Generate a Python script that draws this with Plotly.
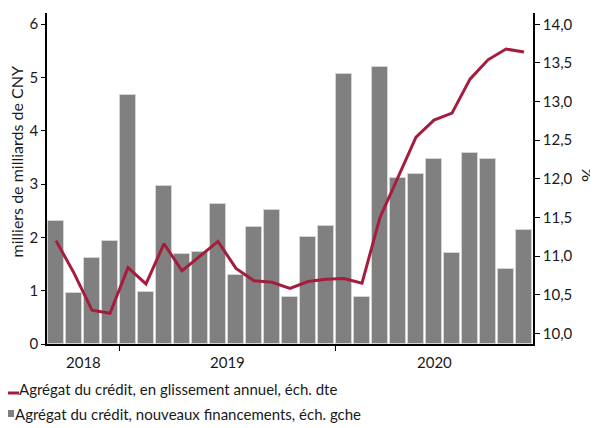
import plotly.graph_objects as go

months = ["2018-09", "2018-10", "2018-11", "2018-12",
          "2019-01", "2019-02", "2019-03", "2019-04", "2019-05", "2019-06",
          "2019-07", "2019-08", "2019-09", "2019-10", "2019-11", "2019-12",
          "2020-01", "2020-02", "2020-03", "2020-04", "2020-05", "2020-06",
          "2020-07", "2020-08", "2020-09", "2020-10", "2020-11"]

new_financing = [2.31, 0.96, 1.61, 1.93, 4.68, 0.97, 2.96, 1.68, 1.72, 2.63,
                 1.29, 2.20, 2.51, 0.88, 2.00, 2.21, 5.06, 0.88, 5.19, 3.11,
                 3.19, 3.47, 1.70, 3.59, 3.47, 1.40, 2.14]

yoy_growth = [11.20, 10.78, 10.30, 10.26, 10.85, 10.64, 11.16, 10.81, 11.00, 11.19,
              10.84, 10.68, 10.66, 10.58, 10.67, 10.70, 10.71, 10.65, 11.50, 12.03,
              12.54, 12.76, 12.85, 13.29, 13.54, 13.68, 13.64]

years = ["2018", "2019", "2020"]

x = list(range(len(months)))
year_centers = []
year_bounds = []
for yr in years:
    idx = [i for i, m in enumerate(months) if m.startswith(yr)]
    year_centers.append((idx[0] + idx[-1]) / 2)
    if idx[0] > 0:
        year_bounds.append(idx[0] - 0.5)

series_names = ["Agrégat du crédit, en glissement annuel, éch. dte",
                "Agrégat du crédit, nouveaux financements, éch. gche"]
left_title = "milliers de milliards de CNY"
right_title = "%"

RED = "#a51d3d"
GREY = "#808080"
FONT = "Lato"

# page body has an 8px margin: figure is sized to fill the remaining window
W, H = 590, 420
L, R, T, B = 39, 65, 5, 84
PW, PH = W - L - R, H - T - B

fig = go.Figure()
fig.add_trace(go.Scatter(x=x, y=yoy_growth, yaxis="y2", mode="lines",
                         line=dict(color=RED, width=3), name=series_names[0],
                         showlegend=False))
fig.add_trace(go.Bar(x=x, y=new_financing,
                     marker=dict(color=GREY, line=dict(color="#d4d4d4", width=1)),
                     width=0.92, name=series_names[1], showlegend=False))

axis_font = dict(family=FONT, size=15, color="#1a1a1a")
title_font = dict(family=FONT, size=16, color="#1a1a1a")

fig.update_layout(
    width=W, height=H,
    margin=dict(l=L, r=R, t=T, b=B, autoexpand=False),
    plot_bgcolor="white", paper_bgcolor="white",
    separators=", ",
    font=dict(family=FONT, size=15, color="#1a1a1a"),
    bargap=0,
    xaxis=dict(range=[-0.5, len(months) - 0.5], showline=True, linecolor="black", linewidth=1.5,
               tickmode="array", tickvals=year_bounds, ticktext=["" for _ in year_bounds],
               ticks="outside", ticklen=5, tickcolor="black", tickwidth=1,
               showgrid=False, zeroline=False, fixedrange=True),
    yaxis=dict(range=[0, 6.21], dtick=1, tick0=0, showline=True, linecolor="black", linewidth=1.5,
               ticks="outside", ticklen=4, tickcolor="black", showgrid=False, zeroline=False,
               tickfont=axis_font),
    yaxis2=dict(range=[9.862, 14.146], dtick=0.5, tick0=10, tickformat=".1f", overlaying="y",
                side="right", showline=True, linecolor="black", linewidth=1.5, ticks="outside",
                ticklen=5, tickcolor="black", showgrid=False, zeroline=False, tickfont=axis_font),
)

# axis titles
fig.add_annotation(x=-31.5 / PW, xref="paper", y=182 / PH, yref="paper", text=left_title,
                   textangle=-90, showarrow=False, xanchor="center", yanchor="middle",
                   font=title_font)
fig.add_annotation(x=541 / PW, xref="paper", y=169 / PH, yref="paper", text=right_title,
                   textangle=-90, showarrow=False, xanchor="center", yanchor="middle",
                   font=dict(family=FONT, size=18, color="#1a1a1a"))

for yr, cx in zip(years, year_centers):
    fig.add_annotation(x=cx, xref="x", y=0, yref="paper", yshift=-18, text=yr,
                       showarrow=False, font=axis_font, yanchor="middle")

# legend drawn as text with small swatches
fig.add_shape(type="line", xref="paper", yref="paper",
              x0=-39 / PW, x1=-28 / PW, y0=-49 / PH, y1=-49 / PH,
              line=dict(color=RED, width=3))
fig.add_shape(type="rect", xref="paper", yref="paper",
              x0=-39 / PW, x1=-33 / PW, y0=-66 / PH, y1=-73 / PH,
              fillcolor=GREY, line=dict(width=0))
fig.add_annotation(x=-30 / PW, xref="paper", y=-45 / PH, yref="paper", text=series_names[0],
                   showarrow=False, xanchor="left", yanchor="middle", font=axis_font)
fig.add_annotation(x=-34 / PW, xref="paper", y=-70 / PH, yref="paper", text=series_names[1],
                   showarrow=False, xanchor="left", yanchor="middle", font=axis_font)

fig.write_html("out.html")
